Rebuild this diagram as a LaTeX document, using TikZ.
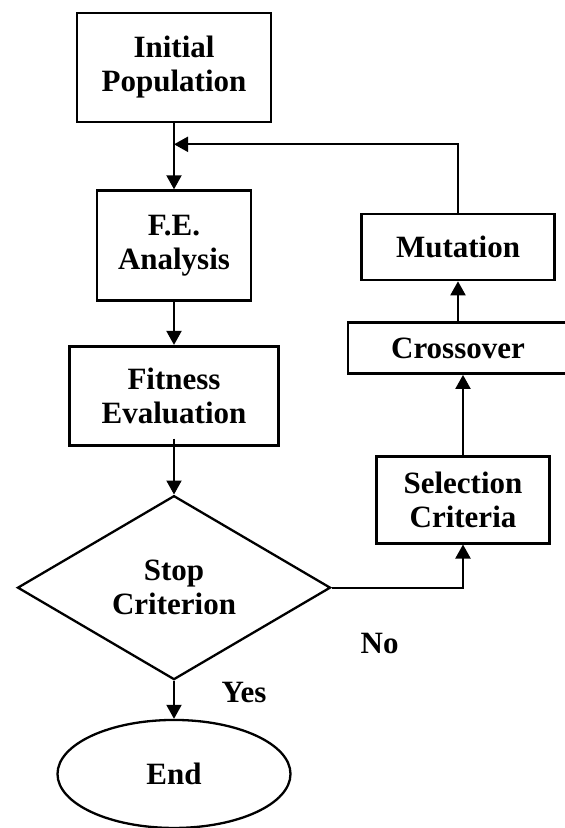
\documentclass[tikz,border=0pt]{standalone}
\usepackage{fontspec}
\setmainfont{Liberation Serif}
\usetikzlibrary{arrows.meta,positioning,shapes.geometric}

\begin{document}
\begin{tikzpicture}[
    x=1pt, y=1pt,
    node distance=40pt,
    every node/.style={align=center, inner sep=0pt, font=\fontsize{31}{34}\selectfont\bfseries},
    box/.style={draw, line width=2.6pt},
    decision/.style={draw, diamond, aspect=1.7, line width=2.3pt, minimum width=313pt, minimum height=184pt},
    terminal/.style={draw, ellipse, line width=2.3pt, minimum width=233pt, minimum height=108pt},
    arr/.style={-{Triangle[length=14pt,width=15pt]}, line width=2pt}
  ]
    \useasboundingbox (0,0) rectangle (565,-828);

    \node[box, minimum width=194pt, minimum height=109pt] (init) at (174,-67.5) {Initial\\Population};
    \coordinate[below=21pt of init] (join);
    \node[box, below=66pt of init, minimum width=154pt, minimum height=110pt] (fea) {F.E.\\Analysis};
    \node[box, below=43pt of fea, minimum width=209pt, minimum height=99pt] (fit) {Fitness\\Evaluation};
    \node[decision, below=48pt of fit] (stop) {Stop\\Criterion};
    \node[terminal, below=38pt of stop] (end) {End};

    \node[box, minimum width=193pt, minimum height=66pt] (mut) at (458,-247) {Mutation};
    \node[box, below=40pt of mut, minimum width=220pt, minimum height=51pt] (cross) {Crossover};
    \node[box, below=80pt of cross, xshift=5pt, minimum width=173pt, minimum height=87pt] (sel) {Selection\\Criteria};

    \node (yes) at ([xshift=70pt,yshift=-12pt]stop.south) {Yes};
    \node (no) at ([xshift=48pt,yshift=-56pt]stop.east) {No};

    \draw[arr] (init) -- (fea);
    \draw[arr] (fea) -- (fit);
    \draw[arr] ([yshift=8pt]fit.south) -- (stop.north);
    \draw[arr] (stop) -- (end);
    \draw[arr] (stop.east) -| (sel.south);
    \draw[arr] (sel.north) -- (sel.north |- cross.south);
    \draw[arr] (cross) -- (mut);
    \draw[arr] (mut.north) |- (join);
  \end{tikzpicture}
\end{document}
